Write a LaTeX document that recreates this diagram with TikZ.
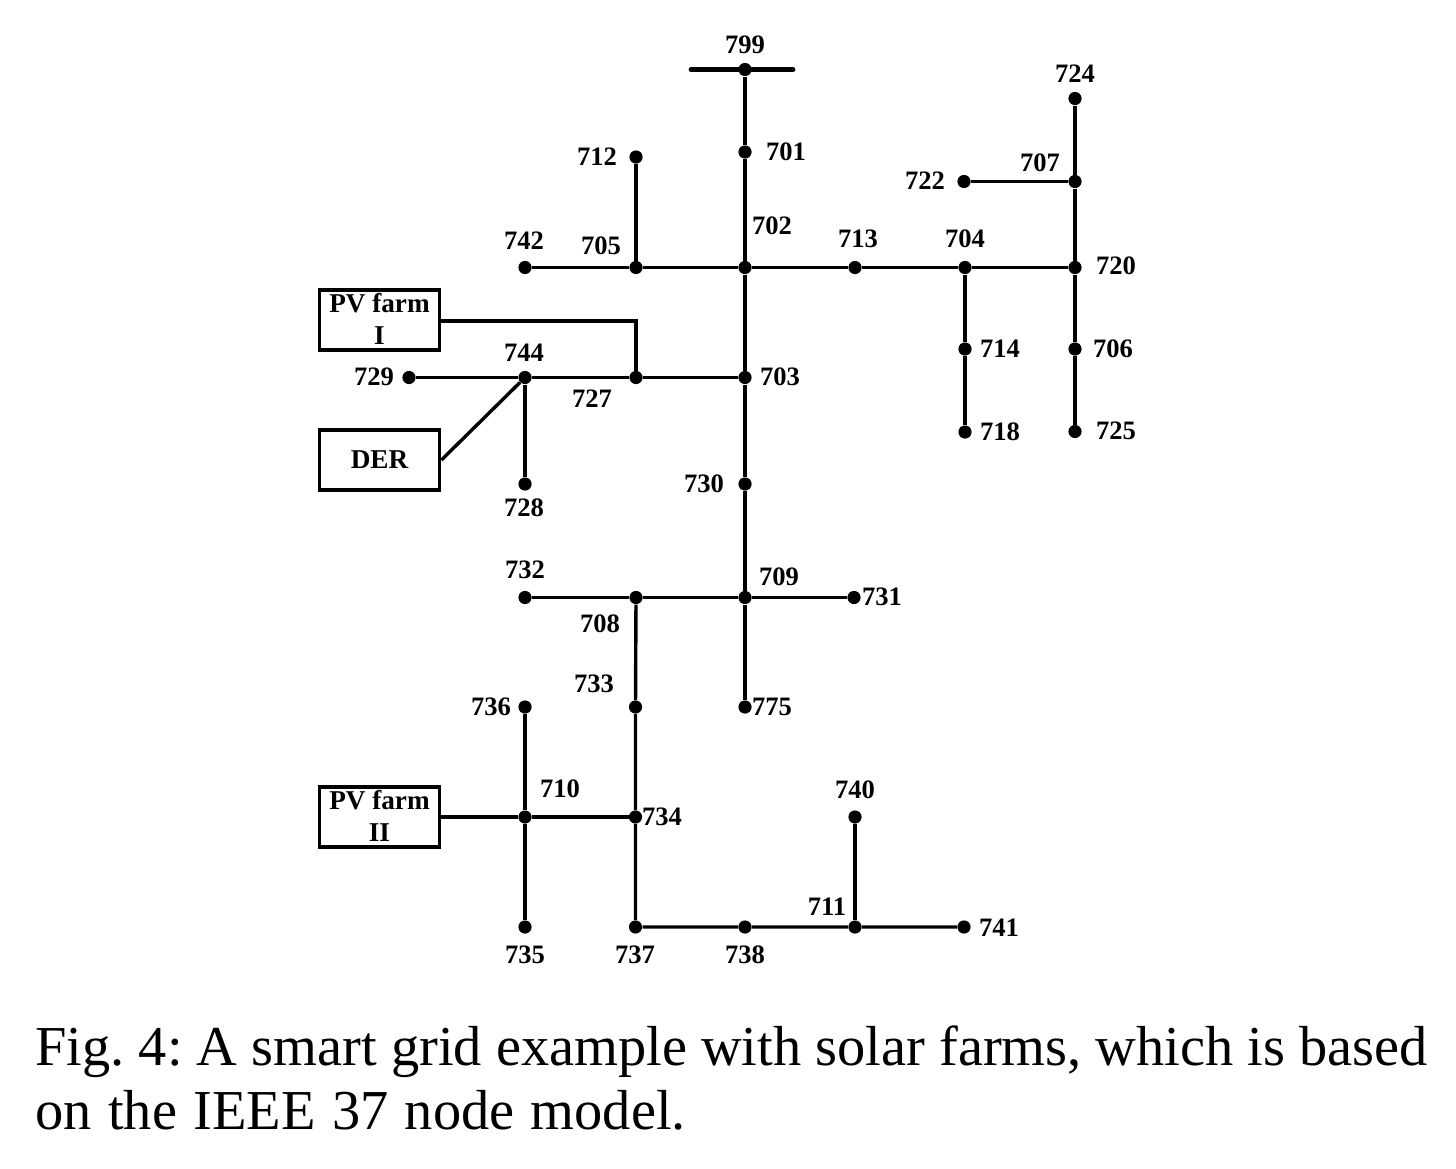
\documentclass[tikz,border=0pt]{standalone}
\usepackage{fontspec}
\setmainfont{Liberation Serif}
\begin{document}
\begin{tikzpicture}[x=0.5pt,y=-0.5pt,
  bus/.style={circle,fill=black,inner sep=0pt,minimum size=6.6pt},
  lab/.style={inner sep=0pt,font=\fontsize{13.3pt}{15pt}\selectfont\bfseries},
  farm/.style={draw,line width=1.9pt,minimum width=60pt,minimum height=30pt,inner sep=0pt,align=center,font=\fontsize{13.6pt}{16pt}\selectfont\bfseries},
  wire/.style={line width=1.7pt},
  barwire/.style={line width=2.4pt,line cap=round},
  captext/.style={inner sep=0pt,anchor=base west,font=\fontsize{28.2pt}{32pt}\selectfont}]
\useasboundingbox (0,0) rectangle (1456,1168);
\fill[white] (0,0) rectangle (1456,1168);
% buses
\foreach \n/\x/\y in {799/745/69.5,701/745/152,702/745/267.5,712/636/157,705/636/267.5,742/525/267.5,713/855/267.5,704/965/267.5,720/1075/267.5,707/1075/181.5,722/964/181.5,724/1075/98.5,714/965/349,718/965/432,706/1075/349,725/1075/431.5,703/745/377.5,727/636/377.5,744/525/377.5,729/409/377.5,728/525/484,730/745/484,709/745/597.5,731/854/597.5,775/745/707,708/636/597.5,732/525/597.5,733/635.5/707,734/635.5/817,736/525/707,710/525/817,735/525/927,737/635.5/927,738/745/927,711/855/927,741/964/927,740/855/817}
  \node[bus] (n\n) at (\x,\y) {};
\coordinate (busL) at (691,69.5);
\coordinate (busR) at (793,69.5);
% boxes
\node[farm] (pv1) at (379.5,320) {\raisebox{1.2pt}{PV farm}\\\raisebox{1.2pt}{I}};
\node[farm] (der) at (379.5,460) {DER};
\node[farm] (pv2) at (379.5,817) {\raisebox{0.6pt}{PV farm}\\\raisebox{0.6pt}{II}};
\coordinate (pv1out) at (441,321);
% connectors
\draw[barwire] (busL) -- (busR);
\draw[wire] (n799) -- (n701) -- (n702) -- (n703) -- (n730) -- (n709) -- (n775);
\draw[wire] (n742) -- (n705) -- (n702) -- (n713) -- (n704) -- (n720);
\draw[wire] (n712) -- (n705);
\draw[wire] (n724) -- (n707) -- (n720) -- (n706) -- (n725);
\draw[wire] (n722) -- (n707);
\draw[wire] (n704) -- (n714) -- (n718);
\draw[wire] (n729) -- (n744) -- (n727) -- (n703);
\draw[wire] (n744) -- (n728);
\draw[wire] (pv1out) -| (n727);
\draw[wire] (der.east) -- (n744);
\draw[wire] (n732) -- (n708) -- (n709) -- (n731);
\draw[wire] (n708) -- (n733) -- (n734) -- (n737) -- (n738) -- (n711) -- (n741);
\draw[wire] (n711) -- (n740);
\draw[wire] (pv2.east) -- (n710) -- (n734);
\draw[wire] (n736) -- (n710) -- (n735);
% labels
\foreach \t/\x/\y in {799/745/45,701/786/152,712/597/157,702/772/226,742/524/241,705/601/246,713/858/239,704/965/239,720/1116/266,707/1040/163,722/925/181,724/1075/74,714/1000/349,718/1000/432,706/1113/349,725/1116/431,703/780/377,744/524/353,729/374/377,727/592/399,728/524/508,730/704/484,709/779/577,731/882/597,732/525/570,708/600/624,733/594/684,775/772/707,736/491/707,710/560/789,734/662/817,740/855/790,711/827/907,741/999/928,735/525/955,737/635/955,738/745/955}
  \node[lab] (l\t) at (\x,\y) {\t};
% caption
\node[captext] (c1) at (35,1065) {\frenchspacing Fig. 4: A smart grid example with solar farms, which is based};
\node[captext] (c2) at (35,1129) {\spaceskip=8.2pt on the IEEE 37 node model.};
\end{tikzpicture}
\end{document}
